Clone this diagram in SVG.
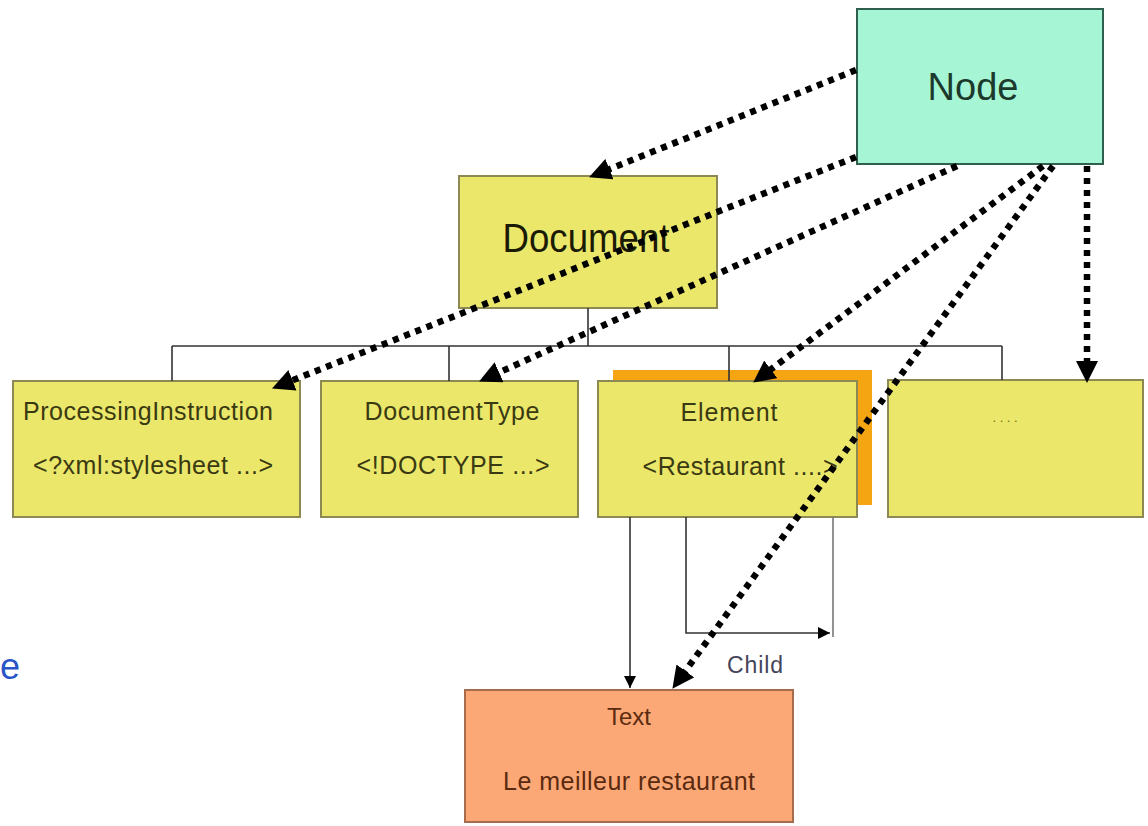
<svg xmlns="http://www.w3.org/2000/svg" width="1148" height="826" viewBox="0 0 1148 826">
<defs>
<style>
.box{fill:#ebe76a;stroke:#8c8a52;stroke-width:2}
.t{font-family:"Liberation Sans",Arial,sans-serif;text-anchor:middle}
.bt{font-size:25px;fill:#3a3a12}
.tree{fill:none;stroke:#333;stroke-width:1.6}
.dot{fill:none;stroke:#000;stroke-width:6.5;stroke-dasharray:6 6}
</style>
<marker id="big" viewBox="0 0 22 22" markerWidth="22" markerHeight="22" refX="13" refY="11" orient="auto" markerUnits="userSpaceOnUse">
<path d="M0,0 L22,11 L0,22 Z" fill="#000"/>
</marker>
<marker id="small" viewBox="0 0 12 12" markerWidth="12" markerHeight="12" refX="12" refY="6" orient="auto" markerUnits="userSpaceOnUse">
<path d="M0,0 L12,6 L0,12 Z" fill="#000"/>
</marker>
</defs>
<rect width="1148" height="826" fill="#fff"/>
<text x="0" y="679" font-family="Liberation Sans,Arial,sans-serif" font-size="36" fill="#2a55c8">e</text>

<g id="node-Node">
<rect x="857" y="9" width="246" height="155" fill="#a6f6d6" stroke="#2f5f4f" stroke-width="2"/>
<text class="t" x="973" y="100" font-size="38" fill="#1c3a2c">Node</text>
</g>
<g id="node-Document">
<rect class="box" x="459" y="176" width="258" height="132"/>
<text class="t" x="586" y="252" font-size="40" fill="#1a1a05" textLength="167" lengthAdjust="spacingAndGlyphs">Document</text>
</g>
<g id="node-ProcessingInstruction">
<rect class="box" x="13" y="381" width="287" height="136"/>
<text class="t bt" x="148" y="420" textLength="250" lengthAdjust="spacing">ProcessingInstruction</text>
<text class="t bt" x="153" y="474" textLength="240" lengthAdjust="spacing">&lt;?xml:stylesheet ...&gt;</text>
</g>
<g id="node-DocumentType">
<rect class="box" x="321" y="381" width="257" height="136"/>
<text class="t bt" x="452" y="420" textLength="175" lengthAdjust="spacing">DocumentType</text>
<text class="t bt" x="453" y="474" textLength="193" lengthAdjust="spacing">&lt;!DOCTYPE ...&gt;</text>
</g>
<g id="node-Element">
<rect x="613" y="370" width="259" height="135" fill="#f6a512"/>
<rect class="box" x="598" y="381" width="259" height="136"/>
<text class="t bt" x="729" y="421" textLength="97" lengthAdjust="spacing">Element</text>
<text class="t bt" x="740" y="475" textLength="195" lengthAdjust="spacing">&lt;Restaurant ....&gt;</text>
</g>
<g id="node-More">
<rect class="box" x="888" y="380" width="255" height="137"/>
<text class="t" x="1005" y="422" font-size="13" fill="#6a6a10" textLength="25" lengthAdjust="spacing">....</text>
</g>
<g id="node-Text">
<rect x="465" y="690" width="328" height="132" fill="#fca876" stroke="#a86c4c" stroke-width="2"/>
<text class="t" x="629" y="725" font-size="24" fill="#5a2a10">Text</text>
<text class="t" x="629" y="790" font-size="25" fill="#5a2a10" textLength="252" lengthAdjust="spacing">Le meilleur restaurant</text>
</g>

<g id="connectors">
<path class="tree" d="M588,308 V346 M172,346 H1002 M172,346 V381 M449,346 V381 M729,346 V381 M1002,346 V380"/>
<path class="tree" d="M630,517 V688" marker-end="url(#small)"/>
<path class="tree" d="M686,517 V633 H830" marker-end="url(#small)"/>
<path d="M833,517 V637" fill="none" stroke="#777" stroke-width="1.6"/>
<text class="t" x="755" y="673" font-size="23" fill="#44445a" textLength="56" lengthAdjust="spacing">Child</text>
<path class="dot" d="M856,70 L597.4,174" marker-end="url(#big)"/>
<path class="dot" d="M856,157 L280.4,385.1" marker-end="url(#big)"/>
<path class="dot" d="M957,166 L487.3,377.7" marker-end="url(#big)"/>
<path class="dot" d="M1043,166 L760.4,377.2" marker-end="url(#big)"/>
<path class="dot" d="M1053,166 L677.7,681.5" marker-end="url(#big)"/>
<path class="dot" d="M1087,166 L1087,374" marker-end="url(#big)"/>
</g>
</svg>
